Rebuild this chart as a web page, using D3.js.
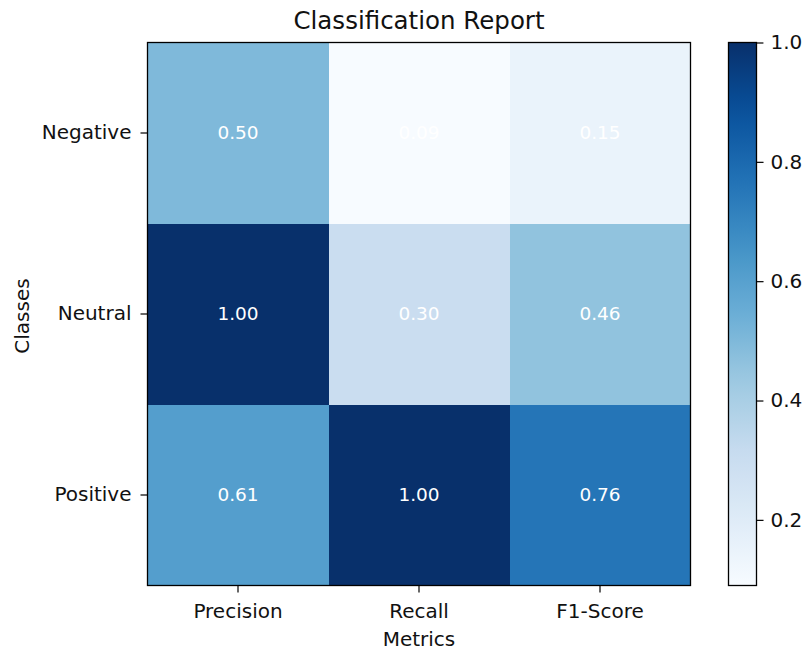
<!DOCTYPE html>
<html>
<head>
<meta charset="utf-8">
<script src="https://cdn.jsdelivr.net/npm/d3@7"></script>
<style>
  html, body { margin: 0; padding: 0; background: #fff; }
  svg { display: block; font-family: "DejaVu Sans", sans-serif; }
</style>
</head>
<body>
<svg id="chart" width="804" height="650"></svg>
<script>
// Per-class scores
const classes = ["Negative", "Neutral", "Positive"];
const metrics = ["Precision", "Recall", "F1-Score"];
const negativeScores = [0.50, 0.09, 0.15];
const neutralScores = [1.00, 0.30, 0.46];
const positiveScores = [0.61, 1.00, 0.76];
const colorbarTicks = [0.2, 0.4, 0.6, 0.8, 1.0];

const scoreRows = [negativeScores, neutralScores, positiveScores];
const cells = [];
classes.forEach((c, i) => metrics.forEach((m, j) => cells.push({ cls: c, metric: m, value: scoreRows[i][j] })));

const svg = d3.select("#chart");
const plot = { left: 147.5, top: 42.5, right: 690.5, bottom: 585.5 };
const tickFont = "20px";

const x = d3.scaleBand().domain(metrics).range([plot.left, plot.right]);
const y = d3.scaleBand().domain(classes).range([plot.top, plot.bottom]);

// Blues colormap: piecewise-linear through the ColorBrewer stops
const vmin = d3.min(cells, d => d.value), vmax = d3.max(cells, d => d.value);
const bluesStops = ["#f7fbff","#deebf7","#c6dbef","#9ecae1","#6baed6","#4292c6","#2171b5","#08519c","#08306b"];
const color = d3.scaleLinear()
  .domain(bluesStops.map((_, k) => vmin + (vmax - vmin) * k / (bluesStops.length - 1)))
  .range(bluesStops)
  .interpolate(d3.interpolateRgb)
  .clamp(true);

// Heatmap cells
svg.append("g").selectAll("rect").data(cells).join("rect")
  .attr("x", d => x(d.metric))
  .attr("y", d => y(d.cls))
  .attr("width", x.bandwidth())
  .attr("height", y.bandwidth())
  .attr("fill", d => color(d.value))
  .attr("shape-rendering", "crispEdges");

// Value annotations
svg.append("g").selectAll("text").data(cells).join("text")
  .attr("x", d => x(d.metric) + x.bandwidth() / 2)
  .attr("y", d => y(d.cls) + y.bandwidth() / 2 - 1)
  .attr("text-anchor", "middle")
  .attr("dominant-baseline", "central")
  .attr("fill", "#ffffff")
  .attr("font-size", "18.5px")
  .text(d => d.value.toFixed(2));

// Axes
const xAxis = svg.append("g")
  .attr("transform", `translate(0,${plot.bottom})`)
  .call(d3.axisBottom(x).tickSize(7).tickPadding(11));
const yAxis = svg.append("g")
  .attr("transform", `translate(${plot.left},0)`)
  .call(d3.axisLeft(y).tickSize(7).tickPadding(9));
[xAxis, yAxis].forEach(g => {
  g.select(".domain").remove();
  g.selectAll("text").attr("font-size", tickFont).attr("fill", "#111").attr("font-family", "DejaVu Sans, sans-serif");
  g.selectAll("line").attr("stroke", "#000").attr("stroke-width", 1.2);
});

// Frame
svg.append("rect")
  .attr("x", plot.left).attr("y", plot.top)
  .attr("width", plot.right - plot.left).attr("height", plot.bottom - plot.top)
  .attr("fill", "none").attr("stroke", "#000").attr("stroke-width", 1.3);

// Title and axis labels
svg.append("text").attr("x", (plot.left + plot.right) / 2).attr("y", 29)
  .attr("text-anchor", "middle").attr("font-size", "24.5px").attr("fill", "#111").text("Classification Report");
svg.append("text").attr("x", (plot.left + plot.right) / 2).attr("y", 646)
  .attr("text-anchor", "middle").attr("font-size", tickFont).attr("fill", "#111").text("Metrics");
svg.append("text")
  .attr("transform", `translate(29,${(plot.top + plot.bottom) / 2 + 2}) rotate(-90)`)
  .attr("text-anchor", "middle").attr("font-size", tickFont).attr("fill", "#111").text("Classes");

// Colorbar
const cb = { left: 728.5, width: 28 };
const cbScale = d3.scaleLinear().domain([vmin, vmax]).range([plot.bottom, plot.top]);
const defs = svg.append("defs");
const grad = defs.append("linearGradient").attr("id", "cbGrad")
  .attr("x1", 0).attr("y1", 1).attr("x2", 0).attr("y2", 0);
d3.range(0, 1.0001, 0.05).forEach(t => {
  grad.append("stop").attr("offset", t).attr("stop-color", color(vmin + (vmax - vmin) * t));
});
svg.append("rect")
  .attr("x", cb.left).attr("y", plot.top)
  .attr("width", cb.width).attr("height", plot.bottom - plot.top)
  .attr("fill", "url(#cbGrad)").attr("stroke", "#000").attr("stroke-width", 1.3);
const cbAxis = svg.append("g")
  .attr("transform", `translate(${cb.left + cb.width},0)`)
  .call(d3.axisRight(cbScale).tickValues(colorbarTicks).tickFormat(d3.format(".1f")).tickSize(7).tickPadding(7));
cbAxis.select(".domain").remove();
cbAxis.selectAll("text").attr("font-size", tickFont).attr("fill", "#111").attr("font-family", "DejaVu Sans, sans-serif");
cbAxis.selectAll("line").attr("stroke", "#000").attr("stroke-width", 1.2);
</script>
</body>
</html>
